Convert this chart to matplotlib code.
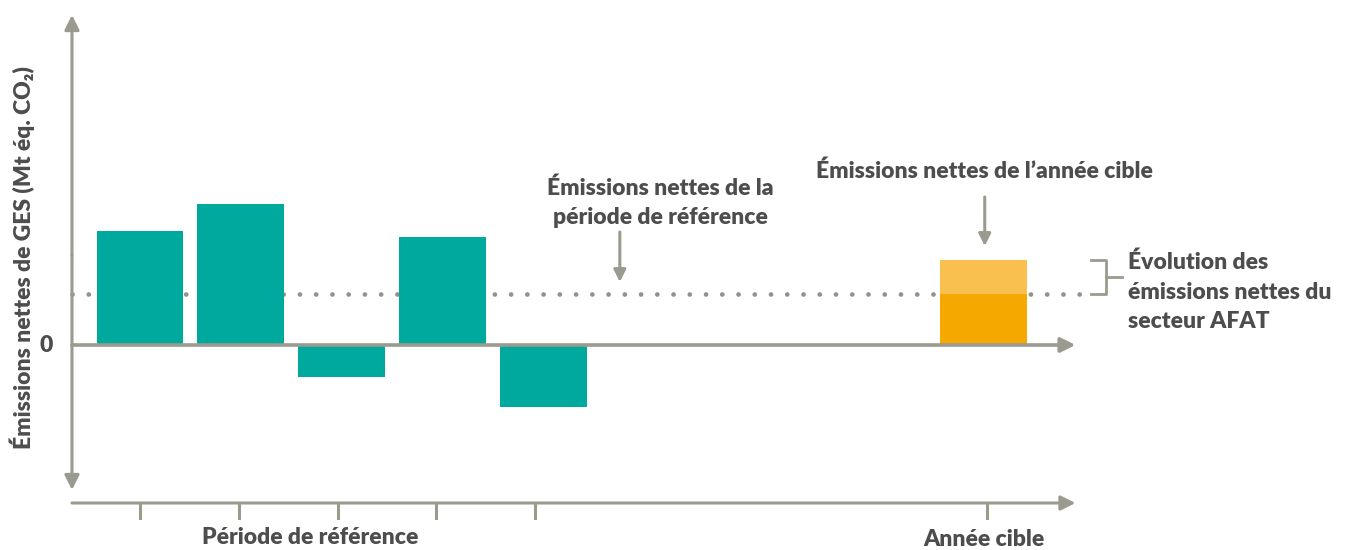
import numpy as np
import matplotlib
matplotlib.use("Agg")
import matplotlib.pyplot as plt

# schematic values (arbitrary units)
reference_values = [11.4, 14.1, -3.2, 10.8, -6.2]
target_value = 8.5
reference_mean = 5.1

x_labels = ["Période de référence", "Année cible"]
ylabel = "Émissions nettes de GES (Mt éq. CO₂)"

teal = "#00A99D"
orange = "#F5A800"
light_orange = "#F9C04F"
gray = "#9A9A8E"
txt = "#4D4D4D"

plt.rcParams['font.family'] = ['Lato', 'DejaVu Sans']
FS = 16.5
W = 'heavy'

fig = plt.figure(figsize=(13.56, 5.5), dpi=100)
ax = fig.add_axes([0, 0, 1, 1])
ax.set_xlim(-1.389, 12.063)
ax.set_ylim(-20.5, 34.5)
ax.axis('off')

ref_x = np.arange(len(reference_values))
target_x = 8.37
width = 0.86

ax.bar(ref_x, reference_values, width=width, color=teal, zorder=2)
ax.bar([target_x], [reference_mean], width=width, color=orange, zorder=2)
ax.bar([target_x], [target_value - reference_mean], bottom=[reference_mean],
       width=width, color=light_orange, zorder=2)

y_axis_x = -0.675
# reference mean dotted line
ax.plot([y_axis_x, 9.37], [reference_mean, reference_mean], color="#929288", lw=3.4,
        linestyle=(0, (0.01, 3.43)), dash_capstyle='round', zorder=1)

arrow = dict(arrowstyle='-|>', color=gray, lw=2.2, mutation_scale=22,
             shrinkA=0, shrinkB=0)
# y axis, double headed
ax.annotate('', xy=(y_axis_x, 33.0), xytext=(y_axis_x, 9.0), arrowprops=arrow)
ax.annotate('', xy=(y_axis_x, -14.5), xytext=(y_axis_x, 9.0), arrowprops=arrow)
# zero line
ax.annotate('', xy=(9.28, 0), xytext=(y_axis_x, 0),
            arrowprops=dict(arrow, lw=2.6), zorder=3)
# time axis
time_y = -15.8
ax.annotate('', xy=(9.28, time_y), xytext=(y_axis_x, time_y), arrowprops=arrow)
for xt in list(ref_x - 0.02 * ref_x) + [target_x + 0.03]:
    ax.plot([xt, xt], [time_y, time_y - 1.5], color=gray, lw=2.2)

ax.text(1.69, -19.2, x_labels[0], ha='center', va='center', fontsize=FS,
        fontweight=W, color=txt)
ax.text(target_x, -19.5, x_labels[1], ha='center', va='center', fontsize=FS,
        fontweight=W, color=txt)
ax.text(-0.86, 0, "0", ha='right', va='center', fontsize=FS,
        fontweight=W, color=txt)
ax.text(-1.17, 8.7, ylabel, rotation=90, ha='center', va='center',
        fontsize=FS, fontweight=W, color=txt)

# annotations
ax.text(5.16, 14.2, "Émissions nettes de la\npériode de référence", ha='center',
        va='center', fontsize=FS, fontweight=W, color=txt, linespacing=1.5)
ax.annotate('', xy=(4.76, 6.3), xytext=(4.76, 11.3),
            arrowprops=dict(arrow, mutation_scale=18))
ax.text(target_x + 0.01, 17.4, "Émissions nettes de l’année cible", ha='center',
        va='center', fontsize=FS, fontweight=W, color=txt)
ax.annotate('', xy=(target_x + 0.01, 9.9), xytext=(target_x + 0.01, 14.8),
            arrowprops=dict(arrow, mutation_scale=18))

# bracket
bx0, bx1, bx2 = 9.43, 9.58, 9.74
ax.plot([bx0, bx1, bx1, bx0], [target_value, target_value, reference_mean, reference_mean],
        color=gray, lw=2)
ax.plot([bx1, bx2], [(target_value + reference_mean) / 2] * 2, color=gray, lw=2)
ax.text(9.8, 5.3,
        "Évolution des\némissions nettes du\nsecteur AFAT", ha='left', va='center',
        fontsize=FS, fontweight=W, color=txt, linespacing=1.5)

plt.savefig('out.png', dpi=100)
